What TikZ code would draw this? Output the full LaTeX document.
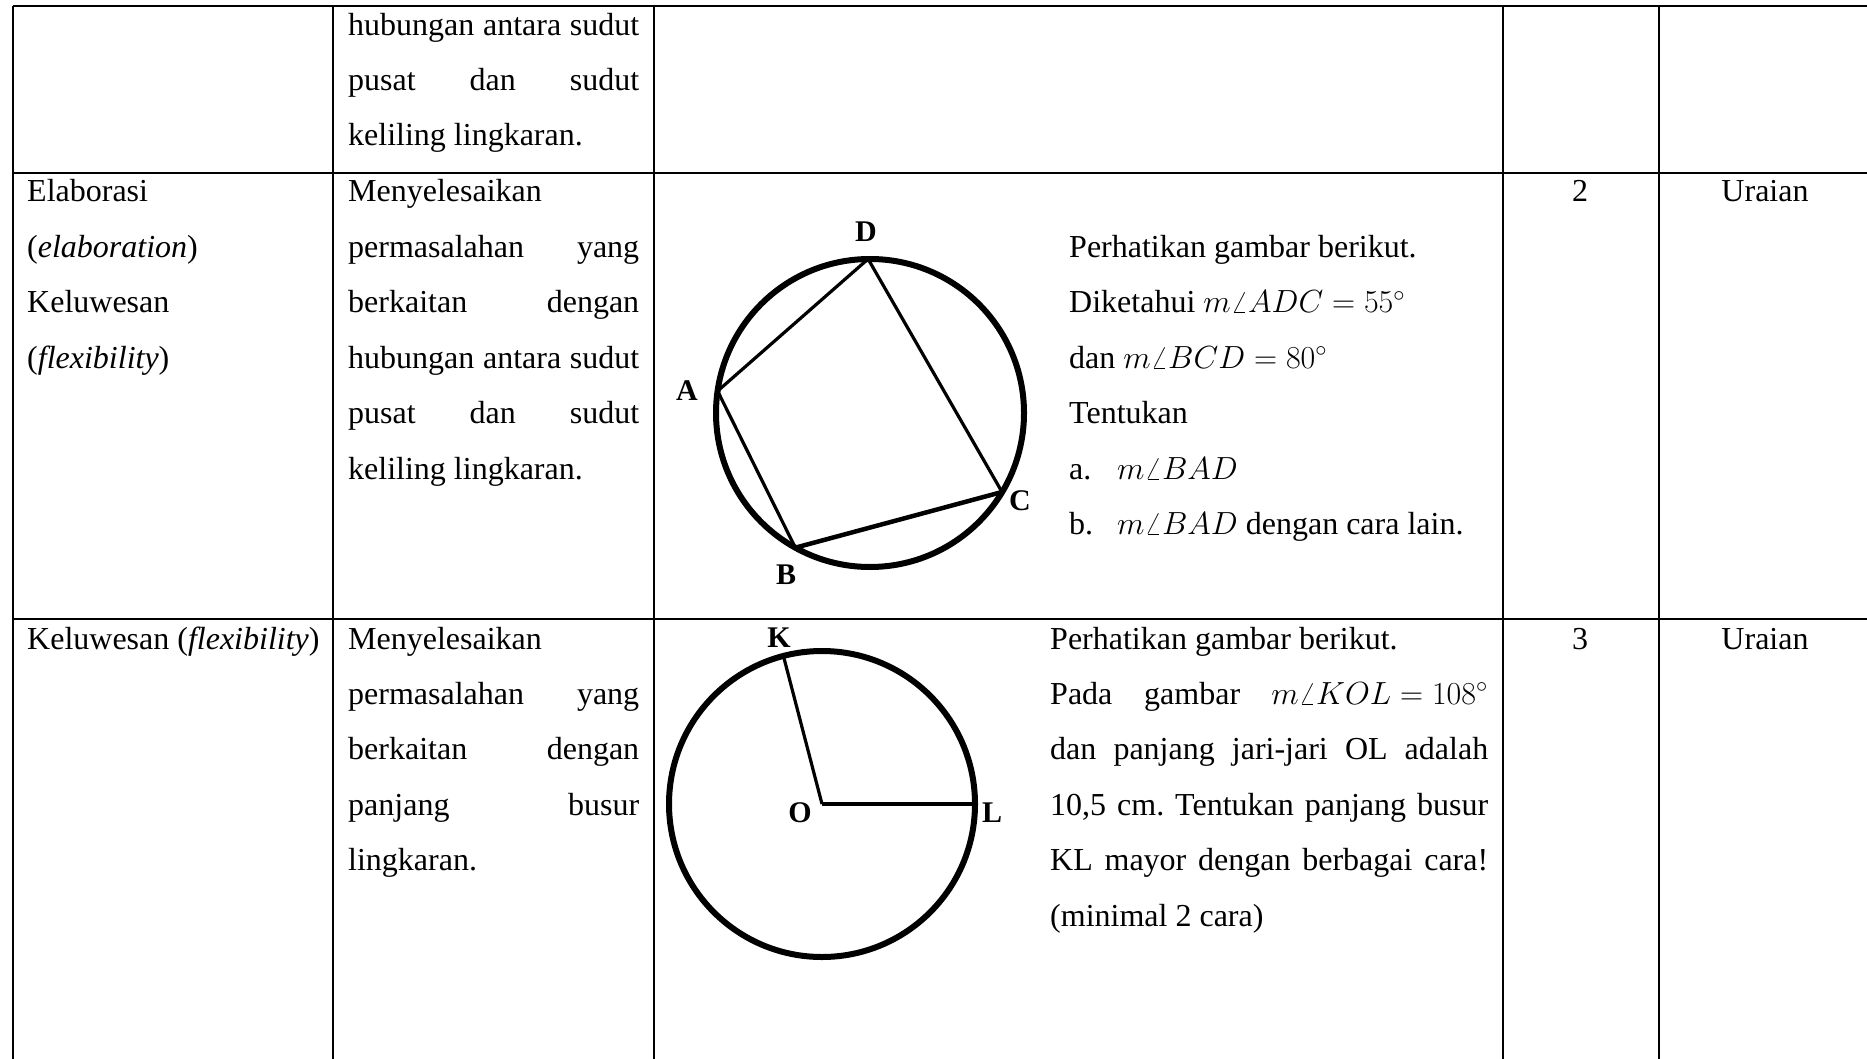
\RequirePackage{fix-cm}
\documentclass[tikz,border=0pt]{standalone}
\usepackage{fontspec}
\setmainfont{Liberation Serif}
\frenchspacing
\begin{document}
\begin{tikzpicture}[x=1pt,y=-1pt,
  txt/.style={anchor=base west, inner sep=0pt, font=\fontsize{32}{38}\selectfont},
  txtc/.style={anchor=base, inner sep=0pt, font=\fontsize{32}{38}\selectfont},
  txte/.style={anchor=base east, inner sep=0pt, font=\fontsize{32}{38}\selectfont},
  lbl/.style={inner sep=0pt, font=\fontsize{30}{36}\selectfont\bfseries},
  grid/.style={line width=2.6pt},
  circ/.style={line width=6pt},
  chord/.style={line width=3.2pt},
  chordthick/.style={line width=4.5pt}]
\useasboundingbox (0,0) rectangle (1867,1059);
% table grid
\foreach \yy/\nm in {6/h0,173/h1,619/h2}{
  \coordinate (\nm l) at (13,\yy); \coordinate (\nm r) at (1867,\yy);
  \draw[grid] (\nm l) -- (\nm r);}
\foreach \xx/\nm in {13/v0,333/v1,654/v2,1503/v3,1659/v4}{
  \coordinate (\nm t) at (\xx,6); \coordinate (\nm b) at (\xx,1059);
  \draw[grid] (\nm t) -- (\nm b);}
% row 0
\node[txt] (r0a) at (348,35.2) {\makebox[291pt][s]{hubungan antara sudut}};
\node[txt] (r0b) at (348,90.6) {\makebox[291pt][s]{pusat dan sudut}};
\node[txt] (r0c) at (348,146) {keliling lingkaran.};
% row 1 col 1
\node[txt] (e1) at (27,202) {Elaborasi};
\node[txt] (e2) at (27,257.4) {(\textit{elaboration})};
\node[txt] (e3) at (27,312.8) {Keluwesan};
\node[txt] (e4) at (27,368.2) {(\textit{flexibility})};
% row 1 col 2
\node[txt] (m1) at (348,202) {Menyelesaikan};
\node[txt] (m2) at (348,257.4) {\makebox[291pt][s]{permasalahan yang}};
\node[txt] (m3) at (348,312.8) {\makebox[291pt][s]{berkaitan dengan}};
\node[txt] (m4) at (348,368.2) {\makebox[291pt][s]{hubungan antara sudut}};
\node[txt] (m5) at (348,423.6) {\makebox[291pt][s]{pusat dan sudut}};
\node[txt] (m6) at (348,479) {keliling lingkaran.};
% row 1 col 3 text
\node[txt] (q1) at (1069,257.4) {Perhatikan gambar berikut.};
\node[txt] (q2) at (1069,312.8) {Diketahui $m\angle ADC = 55^\circ$};
\node[txt] (q3) at (1069,368.2) {dan $m\angle BCD = 80^\circ$};
\node[txt] (q4) at (1069,423.6) {Tentukan};
\node[txt] (q5a) at (1069,479) {a.};
\node[txt] (q5b) at (1117,479) {$m\angle BAD$};
\node[txt] (q6a) at (1069,534.4) {b.};
\node[txt] (q6b) at (1117,534.4) {$m\angle BAD$ dengan cara lain.};
\node[txtc] (n2) at (1580,202) {2};
\node[txtc] (u2) at (1765,202) {Uraian};
% figure 1
\coordinate (c1) at (870,413);
\coordinate (D) at (868.1,259);
\coordinate (A) at (717.6,391);
\coordinate (C) at (1002,492);
\coordinate (B) at (795.3,547.7);
\draw[circ] (c1) circle (154);
\draw[chord] (A) -- (D) -- (C);
\draw[chord] (A) -- (B);
\draw[chordthick] (B) -- (C);
\node[lbl] (lD) at (866,232) {D};
\node[lbl] (lA) at (687,391) {A};
\node[lbl] (lC) at (1020,501) {C};
\node[lbl] (lB) at (786,575) {B};
% row 2 col 1, 2
\node[txt] (k1) at (27,649) {Keluwesan (\textit{flexibility})};
\node[txt] (p1) at (348,649) {Menyelesaikan};
\node[txt] (p2) at (348,704.4) {\makebox[291pt][s]{permasalahan yang}};
\node[txt] (p3) at (348,759.8) {\makebox[291pt][s]{berkaitan dengan}};
\node[txt] (p4) at (348,815.2) {\makebox[291pt][s]{panjang busur}};
\node[txt] (p5) at (348,870.6) {lingkaran.};
% row 2 col 3 text
\node[txt] (s1) at (1050,649) {Perhatikan gambar berikut.};
\node[txt] (s2a) at (1050,704.4) {Pada};
\node[txt] (s2b) at (1144,704.4) {gambar};
\node[txte] (s2c) at (1488,704.4) {$m\angle KOL = 108^\circ$};
\node[txt] (s3) at (1050,759.8) {\makebox[438pt][s]{dan panjang jari-jari OL adalah}};
\node[txt] (s4) at (1050,815.2) {\makebox[438pt][s]{10,5 cm. Tentukan panjang busur}};
\node[txt] (s5) at (1050,870.6) {\makebox[438pt][s]{KL mayor dengan berbagai cara!}};
\node[txt] (s6) at (1050,926) {(minimal 2 cara)};
\node[txtc] (n3) at (1580,649) {3};
\node[txtc] (u3) at (1765,649) {Uraian};
% figure 2
\coordinate (O) at (822,804);
\coordinate (K) at (783.4,655.9);
\coordinate (L) at (975,804);
\draw[circ] (O) circle (153);
\draw[chord] (O) -- (K);
\draw[chordthick] (O) -- (L);
\node[lbl] (lK) at (779,638) {K};
\node[lbl] (lO) at (800,813) {O};
\node[lbl] (lL) at (992,813) {L};
\end{tikzpicture}
\end{document}
